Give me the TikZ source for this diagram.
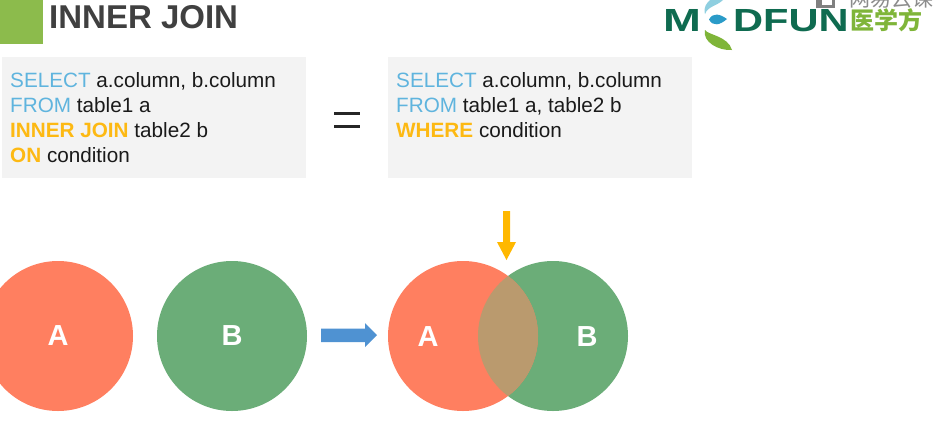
\documentclass[tikz,border=0pt]{standalone}
\usepackage{fontspec}
\setmainfont{Liberation Sans}
\newfontfamily\cjkfont{Noto Sans CJK SC}
\definecolor{titlegray}{HTML}{404040}
\definecolor{leafgreen}{HTML}{8CBB4C}
\definecolor{panelgray}{HTML}{F3F3F3}
\definecolor{kwblue}{HTML}{5FB4DE}
\definecolor{kwyellow}{HTML}{FDB913}
\definecolor{codeblack}{HTML}{1A1A1A}
\definecolor{circA}{HTML}{FF7F60}
\definecolor{circB}{HTML}{6BAD78}
\definecolor{overlap}{HTML}{BA9A6E}
\definecolor{arrowblue}{HTML}{4F92D2}
\definecolor{arrowyellow}{HTML}{FFB800}
\definecolor{logogreen}{HTML}{0F6B50}
\definecolor{logolight}{HTML}{7FB539}
\definecolor{logoblue}{HTML}{2A9BC8}
\definecolor{logopale}{HTML}{8FCFE0}
\newcommand{\kb}[1]{\textcolor{kwblue}{#1}}
\newcommand{\ky}[1]{\textcolor{kwyellow}{\bfseries #1}}
\tikzset{
  codetext/.style={anchor=north west,inner sep=0pt,text=codeblack,font=\fontsize{20.7}{25}\selectfont,align=left},
  circlab/.style={text=white,font=\fontsize{29}{29}\selectfont\bfseries,inner sep=0pt},
  logotext/.style={text=logogreen,font=\fontsize{32}{32}\selectfont\bfseries,inner sep=0pt,anchor=base west}
}
\begin{document}
\begin{tikzpicture}[x=1pt,y=-1pt]
\useasboundingbox (0,0) rectangle (937,432);
\clip (0,0) rectangle (937,432);
\fill[white] (0,0) rectangle (937,432);
% title
\fill[leafgreen] (0,0) rectangle (43,44);
\node[anchor=base west,inner sep=0pt,text=titlegray,font=\fontsize{33}{33}\selectfont\bfseries] (title) at (49,28.5) {INNER JOIN};
% panels
\fill[panelgray] (2,57) rectangle (306,178);
\fill[panelgray] (388,57) rectangle (692,178);
\node[codetext] (leftcode) at (10,72.5) {\kb{SELECT} a.column, b.column\\\kb{FROM} table1 a\\\ky{INNER JOIN} table2 b\\\ky{ON} condition};
\node[codetext] (rightcode) at (396,72.5) {\kb{SELECT} a.column, b.column\\\kb{FROM} table1 a, table2 b\\\ky{WHERE} condition};
% equals
\fill[black!85] (334,112) rectangle (360,115);
\fill[black!85] (334,125) rectangle (360,128);
% circles
\fill[circA] (58,336) circle (75);
\fill[circB] (232,336) circle (75);
\fill[circB] (553,336) circle (75);
\fill[circA] (463,336) circle (75);
\begin{scope}
\clip (463,336) circle (75);
\fill[overlap] (553,336) circle (75);
\end{scope}
\node[circlab] (a1) at (58,336) {A};
\node[circlab] (b1) at (232,336) {B};
\node[circlab] (a2) at (428,337) {A};
\node[circlab] (b2) at (587,337) {B};
% arrows
\fill[arrowblue] (321,328.5) -- (365,328.5) -- (365,323) -- (377,335) -- (365,347) -- (365,342) -- (321,342) -- cycle;
\fill[arrowyellow] (503,211) -- (510,211) -- (510,242) -- (516,242) -- (506.5,260) -- (497,242) -- (503,242) -- cycle;
% logo
\node[logotext] (m) at (663,31) {\scalebox{1.42}[1]{M}};
\fill[logoblue] (709,19.5) .. controls (713,12) and (720,14) .. (727,19) .. controls (720,25) and (713,27) .. (709,19.5) -- cycle;
\fill[logolight] (705,30) .. controls (708,35) and (728,36) .. (732,50) .. controls (719,51) and (702,42) .. (705,30) -- cycle;
\fill[logopale] (723,0) .. controls (717,6) and (708,6) .. (705,14) .. controls (703,7) and (707,3) .. (710,0) -- cycle;
\node[logotext] (dfun) at (733,31) {\scalebox{1.3}[1]{DFUN}};
\node[anchor=base west,inner sep=0pt,text=logolight,font=\cjkfont\fontsize{24}{24}\selectfont\bfseries] (cn) at (850,29) {医学方};
% watermark
\fill[black!50] (816,0) rectangle (835,8);
\fill[white] (822,0) rectangle (832,5);
\node[anchor=base west,inner sep=0pt,text=black!45,font=\cjkfont\fontsize{21}{21}\selectfont] (wm) at (849,6.5) {网易云课};
\end{tikzpicture}
\end{document}
